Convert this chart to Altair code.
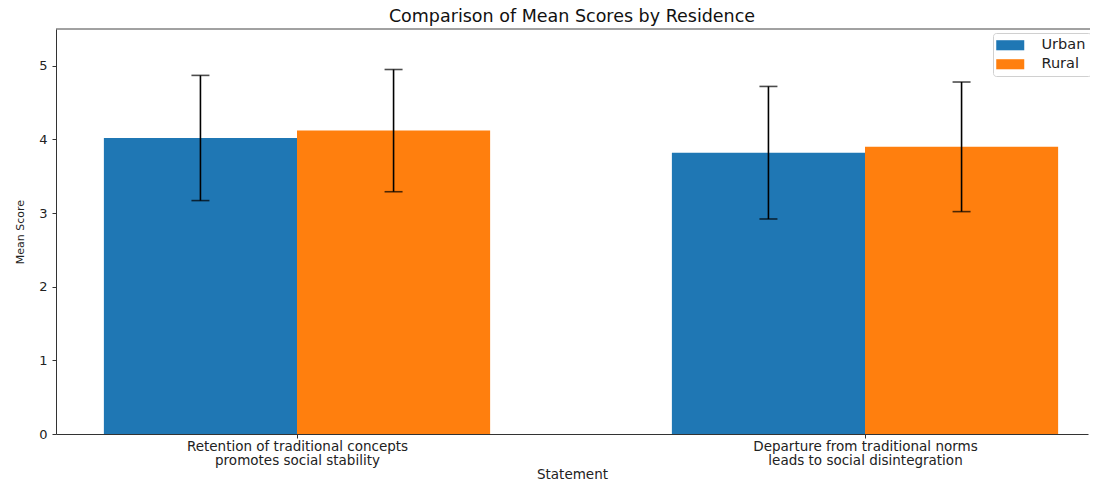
import altair as alt
import pandas as pd

statements = ["Retention of traditional concepts\npromotes social stability",
              "Departure from traditional norms\nleads to social disintegration"]
groups = ["Urban", "Rural"]
urban_mean = [4.02, 3.82]
urban_sd = [0.85, 0.90]
rural_mean = [4.12, 3.90]
rural_sd = [0.83, 0.88]
colors = ["#1f77b4", "#ff7f0e"]
bar_width = 0.34

rows = []
for i, s in enumerate(statements):
    for j, (g, m, sd) in enumerate(zip(groups, [urban_mean[i], rural_mean[i]], [urban_sd[i], rural_sd[i]])):
        center = i + (j - 0.5) * bar_width
        rows.append(dict(statement=s, idx=i, group=g, mean=m, base=0.0, lo=m - sd, hi=m + sd,
                         xc=center, x0=center - bar_width / 2, x1=center + bar_width / 2))
df = pd.DataFrame(rows)

label_expr = "datum.value == 0 ? {} : {}".format(
    str(statements[0].split("\n")), str(statements[1].split("\n")))

W, H = 1032, 405
xscale = alt.Scale(domain=[-0.4243, 1.3926], nice=False, zero=False)
yscale = alt.Scale(domain=[0, 5.5], nice=False)

base = alt.Chart(df)

bars = base.mark_bar().encode(
    x=alt.X("x0:Q", scale=xscale, title="Statement",
            axis=alt.Axis(values=[0, 1], labelExpr=label_expr, grid=False, tickSize=4,
                          labelFontSize=13.5, titleFontSize=13.5, labelPadding=1, labelLimit=0,
                          labelLineHeight=14.5,
                          titleFont="DejaVu Sans", labelFont="DejaVu Sans",
                          titleFontWeight="normal", titlePadding=0,
                          domainColor="#333", tickColor="#333", labelColor="#222", titleColor="#222")),
    x2="x1:Q",
    y=alt.Y("mean:Q", scale=yscale, title="Mean Score",
            axis=alt.Axis(values=[0, 1, 2, 3, 4, 5], format="d", grid=False, tickSize=4,
                          labelFontSize=13, titleFontSize=11,
                          titleFont="DejaVu Sans", labelFont="DejaVu Sans",
                          titleFontWeight="normal", titlePadding=13, labelPadding=5,
                          domainColor="#333", tickColor="#333", labelColor="#222", titleColor="#222")),
    y2="base:Q",
    color=alt.Color("group:N", scale=alt.Scale(domain=groups, range=colors), title=None,
                    legend=alt.Legend(orient="none", legendX=937, legendY=4,
                                      symbolType="M-2,-0.72H2V0.72H-2Z", symbolSize=196,
                                      symbolOffset=5,
                                      symbolStrokeWidth=0, labelFontSize=14.5, labelFont="DejaVu Sans",
                                      labelOffset=24, rowPadding=4, padding=5,
                                      strokeColor="#d0d0d0", fillColor="white", cornerRadius=3,
                                      labelColor="#222")),
)

err = base.mark_rule(color="black", strokeWidth=1.6).encode(
    x="xc:Q", y="lo:Q", y2="hi:Q")
cap_lo = base.mark_tick(color="black", thickness=1.6, size=18, orient="horizontal").encode(
    x="xc:Q", y="lo:Q")
cap_hi = base.mark_tick(color="black", thickness=1.6, size=18, orient="horizontal").encode(
    x="xc:Q", y="hi:Q")

# top spine of the frame; the right spine lies outside the cropped reference
top_spine = alt.Chart(pd.DataFrame({"k": [0]})).mark_rule(color="#444", strokeWidth=1).encode(
    x=alt.value(0), x2=alt.value(W + 2), y=alt.value(0))

chart = alt.layer(bars, err, cap_lo, cap_hi, top_spine).properties(
    width=W, height=H,
    autosize=alt.AutoSizeParams(type="none"),
    padding={"left": 48, "top": 21, "right": 2, "bottom": 47},
    title=alt.TitleParams("Comparison of Mean Scores by Residence", fontSize=17.5,
                          font="DejaVu Sans", fontWeight="normal", color="#111", offset=3,
                          anchor="middle"),
).configure_view(stroke=None)

chart.save("out.html", embed_options={"renderer": "svg", "actions": False})
